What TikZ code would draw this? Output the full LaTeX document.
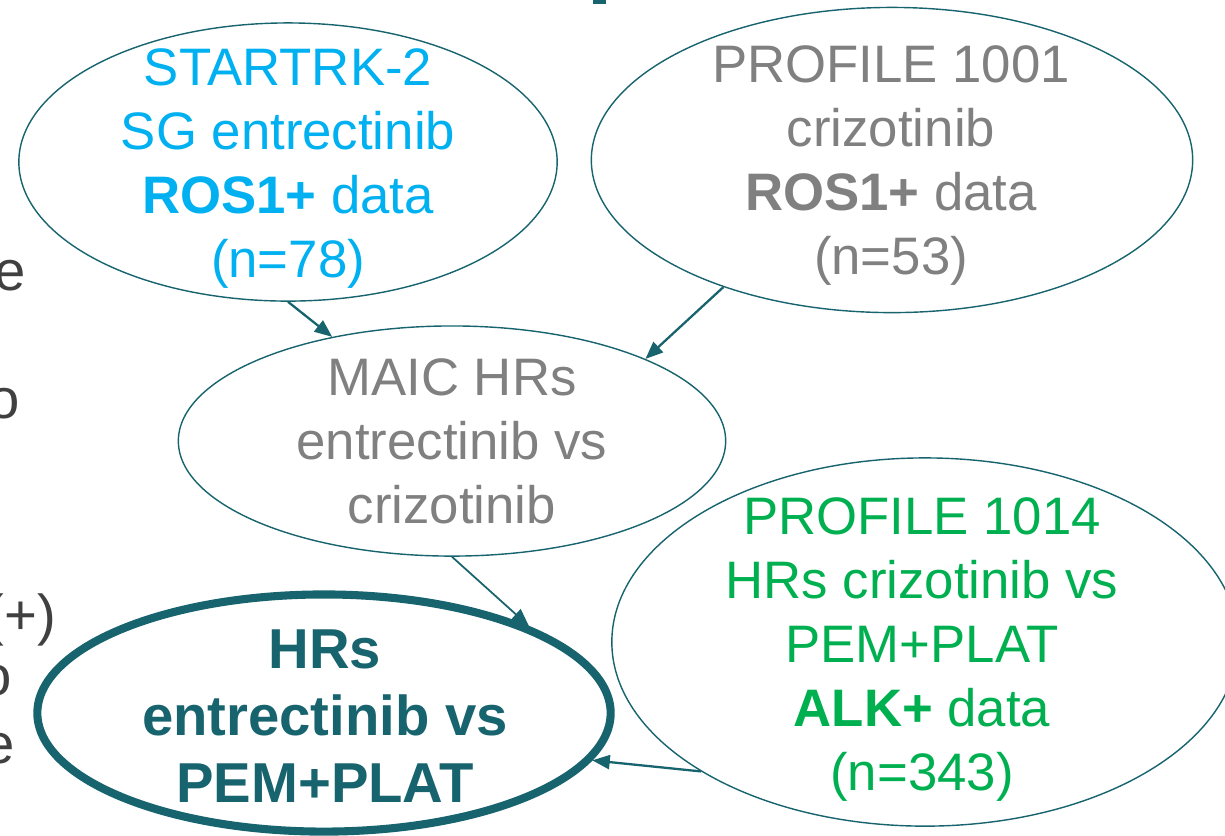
\documentclass[tikz,border=0pt]{standalone}
\usepackage{fontspec}
\setmainfont{Liberation Sans}
\usetikzlibrary{shapes.geometric,arrows.meta}
\definecolor{teal1}{HTML}{17646E}
\definecolor{cyan1}{HTML}{00B0F0}
\definecolor{gray1}{HTML}{808080}
\definecolor{green1}{HTML}{00B050}
\definecolor{dark1}{HTML}{404040}
\begin{document}
\begin{tikzpicture}[x=0.01cm,y=-0.01cm,
  oval/.style={ellipse, draw=teal1, line width=0.4pt, inner sep=0pt},
  lbl/.style={align=center, inner sep=0pt, anchor=north, font=\fontsize{15}{18.2}\selectfont},
  side/.style={anchor=base east, inner sep=0pt, text=dark1, font=\fontsize{16}{19}\selectfont},
  conn/.style={draw=teal1, line width=0.65pt, -{Triangle[length=5pt,width=4pt]}}
]
\useasboundingbox (0,0) rectangle (1225,835);
\clip (0,0) rectangle (1225,835);

% fragment of a title cut by the top edge
\fill[teal1] (593,0) rectangle (606,4);

% text cut by the left edge
\node[side] (l1) at (26,290) {e};
\node[side] (l2) at (20,418) {o};
\node[side] (l3) at (57,634) {(+)};
\node[side] (l4) at (12,695) {o};
\node[side] (l5) at (15,763) {e};

% ellipses
\node[oval, minimum width=5.38cm, minimum height=2.78cm] (e1) at (288,162) {};
\node[oval, minimum width=6.01cm, minimum height=3.05cm] (e2) at (892,160) {};
\node[oval, minimum width=5.47cm, minimum height=2.30cm] (e3) at (452,441) {};
\node[oval, minimum width=6.26cm, minimum height=3.68cm] (e4) at (925,642) {};
\node[oval, line width=2.3pt, minimum width=5.73cm, minimum height=2.37cm] (e5) at (324,713) {};

% texts
\node[lbl, text=cyan1] (t1) at (288,48) {STARTRK-2\\SG entrectinib\\\textbf{ROS1+} data\\(n=78)};
\node[lbl, text=gray1] (t2) at (891,45) {PROFILE 1001\\crizotinib\\\textbf{ROS1+} data\\(n=53)};
\node[lbl, text=gray1] (t3) at (452,358) {MAIC HRs\\entrectinib vs\\crizotinib};
\node[lbl, text=green1] (t4) at (922,497) {PROFILE 1014\\HRs crizotinib vs\\PEM+PLAT\\\textbf{ALK+} data\\(n=343)};
\node[lbl, text=teal1, font=\fontsize{16}{19.1}\selectfont\bfseries] (t5) at (325,629) {HRs\\entrectinib vs\\PEM+PLAT};

% connectors
\draw[conn] (e1.south) -- (e3.139);
\draw[conn] (e2.217) -- (e3.23);
\draw[conn, line width=0.5pt] (e3.south) -- (e5.23);
\draw[conn] (e4.210) -- (e5.350);
\end{tikzpicture}
\end{document}
